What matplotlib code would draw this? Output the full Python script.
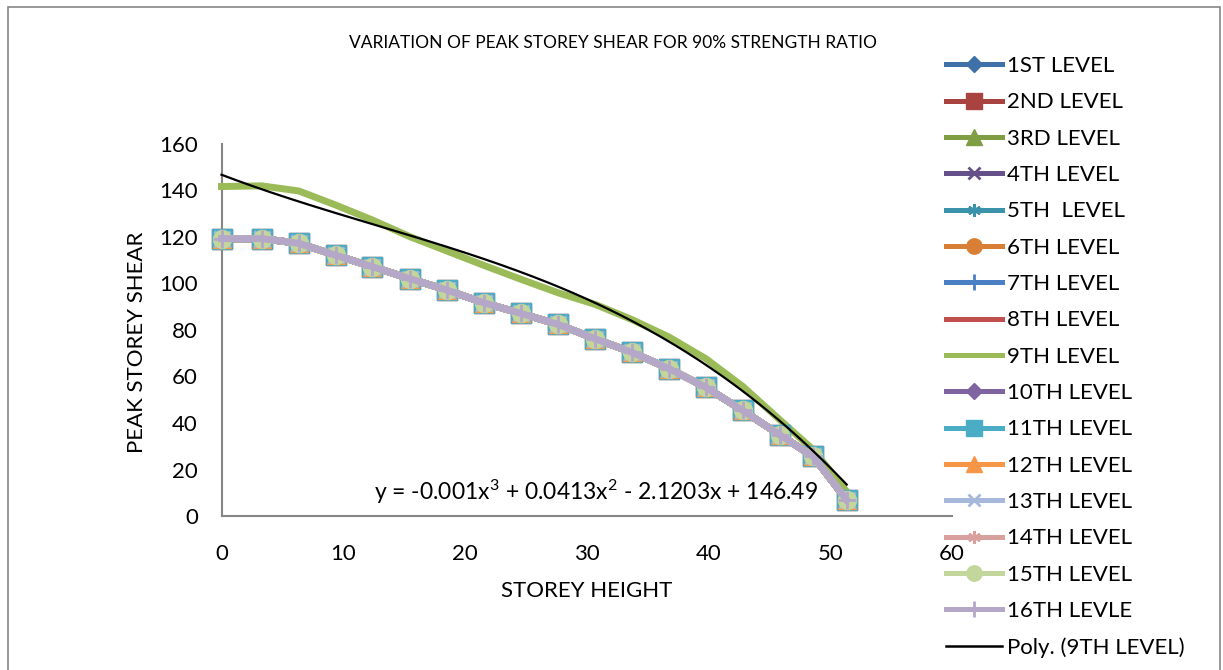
import numpy as np
import matplotlib
matplotlib.use("Agg")
import matplotlib.pyplot as plt
from matplotlib.patches import Rectangle

# storey height (m) and peak storey shear
height = [0, 3.3, 6.35, 9.4, 12.4, 15.45, 18.5, 21.55, 24.6, 27.65,
          30.7, 33.7, 36.75, 39.8, 42.8, 45.85, 48.6, 51.35]
shear_common = [119.3, 119.3, 117.3, 112.1, 107.2, 102.1, 97.2, 91.7, 87.1, 82.4,
                76.2, 70.4, 63.4, 55.3, 45.4, 34.9, 25.6, 6.9]
shear_9th = [141.7, 142.0, 139.8, 133.7, 127.3, 120.2, 114.0, 107.8, 101.8, 96.0,
             91.0, 84.5, 77.0, 67.6, 55.8, 41.4, 28.5, 10.5]

labels = ['1ST LEVEL', '2ND LEVEL', '3RD LEVEL', '4TH LEVEL', '5TH  LEVEL',
          '6TH LEVEL', '7TH LEVEL', '8TH LEVEL', '9TH LEVEL', '10TH LEVEL',
          '11TH LEVEL', '12TH LEVEL', '13TH LEVEL', '14TH LEVEL', '15TH LEVEL',
          '16TH LEVLE']

star = (6, 2, 0)
colors = ['#4070A8', '#A9433F', '#7F9E44', '#66508A', '#3A93AB', '#D97F35',
          '#4A80C3', '#C0504D', '#9BBB59', '#8064A2', '#4BACC6', '#F79646',
          '#A7B9DA', '#D9A19E', '#C3D69B', '#B4A7C8']
markers = ['D', 's', '^', 'x', star, 'o', '+', None, None, 'D', 's', '^',
           'x', star, 'o', '+']
msizes = {'D': 10, 's': 14, '^': 13, 'x': 11, star: 11, 'o': 13, '+': 13, None: 0}

plt.rcParams['font.family'] = ['Lato', 'DejaVu Sans']
plt.rcParams['mathtext.fontset'] = 'custom'
plt.rcParams['mathtext.rm'] = 'Lato'
plt.rcParams['mathtext.it'] = 'Lato'

fig = plt.figure(figsize=(12.23, 6.70), dpi=100)
ax = fig.add_axes([221.5 / 1223, 1 - 516 / 670, (952 - 221.5) / 1223, (516 - 144) / 670])

for i, lab in enumerate(labels):
    y = shear_9th if lab == '9TH LEVEL' else shear_common
    m = markers[i]
    ax.plot(height, y, color=colors[i], lw=5, marker=m, markersize=msizes[m],
            markeredgewidth=2 if m in ('x', '+', star) else 1,
            markeredgecolor=colors[i], label=lab, clip_on=False, zorder=2 + i * 0.1)

coef = np.polyfit(height, shear_9th, 3)
xs = np.linspace(0, height[-1], 200)
ax.plot(xs, np.polyval(coef, xs), color='black', lw=1.6,
        label='Poly. (9TH LEVEL)', clip_on=False, zorder=5)

ax.text(30.8, 10.4, r'y = -0.001x$^{\mathrm{3}}$ + 0.0413x$^{\mathrm{2}}$ - 2.1203x + 146.49',
        ha='center', va='center', fontsize=16.5)

ax.set_xlim(0, 60)
ax.set_ylim(0, 160)
ax.set_xticks(range(0, 61, 10))
ax.set_yticks(range(0, 161, 20))
ax.tick_params(length=0, labelsize=16)
ax.tick_params(axis='x', pad=20)
ax.tick_params(axis='y', pad=17)
for s in ['top', 'right']:
    ax.spines[s].set_visible(False)
for s in ['left', 'bottom']:
    ax.spines[s].set_color('#868686')
    ax.spines[s].set_linewidth(1.5)

ax.set_xlabel('STOREY HEIGHT', fontsize=16)
ax.set_ylabel('PEAK STOREY SHEAR', fontsize=16)
ax.xaxis.set_label_coords(0.5, -(591 - 516) / 372)
ax.yaxis.set_label_coords(-(221.5 - 137) / 730.5, (516 - 342) / 372)
for lbl in [ax.xaxis.label, ax.yaxis.label]:
    lbl.set_va('center')

fig.text(613 / 1223, 1 - 43 / 670, 'VARIATION OF PEAK STOREY SHEAR FOR 90% STRENGTH RATIO',
         ha='center', va='center', fontsize=12.5)

handles, labs = ax.get_legend_handles_labels()
leg = fig.legend(handles, labs, loc='upper left', bbox_to_anchor=(946 / 1223, 1 - 56 / 670),
                 frameon=False, fontsize=16, handlelength=2.5, handletextpad=0.25,
                 labelspacing=0.735, borderpad=0, borderaxespad=0, markerscale=0.85)
for ln in leg.get_lines()[:-1]:
    ln.set_linewidth(3.6)
leg.get_lines()[-1].set_linewidth(1.8)

fig.add_artist(Rectangle((8 / 1223, -0.1), 1212 / 1223, 1.1 - 7 / 670,
                         transform=fig.transFigure, fill=False,
                         edgecolor='#868686', lw=1.2))

fig.savefig('out.png', dpi=100)
